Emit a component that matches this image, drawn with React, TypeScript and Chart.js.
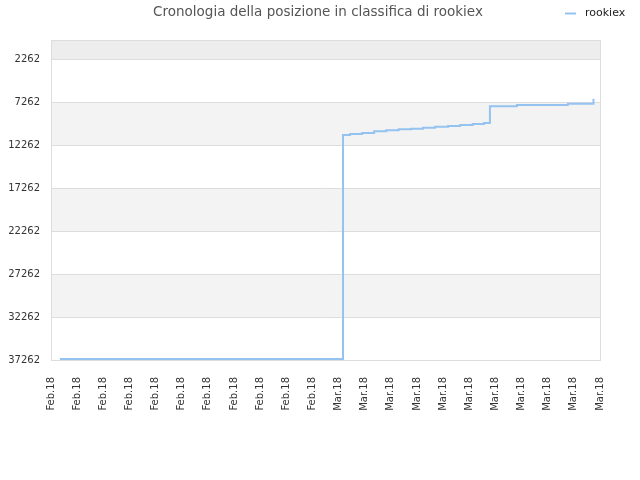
import { useEffect, useRef } from "react";
import { Chart, registerables } from "chart.js";

Chart.register(...registerables);

// tick labels under the x axis (one per grid step)
const xLabels = [
  "Feb.18", "Feb.18", "Feb.18", "Feb.18", "Feb.18", "Feb.18",
  "Feb.18", "Feb.18", "Feb.18", "Feb.18", "Feb.18",
  "Mar.18", "Mar.18", "Mar.18", "Mar.18", "Mar.18", "Mar.18",
  "Mar.18", "Mar.18", "Mar.18", "Mar.18", "Mar.18",
];

// position on the time axis (in label steps) where the rank changes
const changeAt = [
  0.34, 11.17, 11.44, 11.9, 12.36, 12.82, 13.3, 13.77, 14.23,
  14.69, 15.19, 15.65, 16.13, 16.56, 16.79, 17.82, 19.77, 20.75,
];
const ranks = [
  37146, 11064, 10948, 10832, 10634, 10518, 10402, 10320, 10204,
  10088, 10018, 9902, 9786, 9669, 7727, 7576, 7413, 6832,
];

const yTicks = [2262, 7262, 12262, 17262, 22262, 27262, 32262, 37262];

const titleText = "Cronologia della posizione in classifica di rookiex";
const seriesName = "rookiex";
const lineColor = "#95c3f1";

const decorPlugin = {
  id: "decor",
  beforeDraw(chart: any) {
    const { ctx, chartArea } = chart;
    const y = chart.scales.y;
    ctx.save();
    // top strip above the first tick
    ctx.fillStyle = "#ededed";
    ctx.fillRect(chartArea.left, chartArea.top, chartArea.right - chartArea.left, y.getPixelForValue(yTicks[0]) - chartArea.top);
    ctx.fillStyle = "#f3f3f3";
    for (let i = 1; i < yTicks.length - 1; i += 2) {
      const a = y.getPixelForValue(yTicks[i]);
      const b = y.getPixelForValue(yTicks[i + 1]);
      ctx.fillRect(chartArea.left, a, chartArea.right - chartArea.left, b - a);
    }
    ctx.restore();
  },
  afterDraw(chart: any) {
    const { ctx, chartArea } = chart;
    ctx.save();
    ctx.strokeStyle = "#dddddd";
    ctx.lineWidth = 1;
    ctx.strokeRect(chartArea.left + 0.5, chartArea.top + 0.5, chartArea.right - chartArea.left, chartArea.bottom - chartArea.top);
    // title
    ctx.fillStyle = "#555";
    ctx.font = "13.5px 'DejaVu Sans'";
    ctx.textAlign = "center";
    ctx.textBaseline = "middle";
    ctx.fillText(titleText, 318, 12);
    // legend, top right
    ctx.strokeStyle = lineColor;
    ctx.lineWidth = 2;
    ctx.beginPath();
    ctx.moveTo(565, 13.5);
    ctx.lineTo(576, 13.5);
    ctx.stroke();
    ctx.fillStyle = "#222";
    ctx.font = "11px 'DejaVu Sans'";
    ctx.textAlign = "left";
    ctx.fillText(seriesName, 585, 13);
    ctx.restore();
  },
};

export default function App() {
  const canvasRef = useRef<HTMLCanvasElement | null>(null);

  useEffect(() => {
    document.body.style.margin = "0";
    if (!canvasRef.current) return;

    const chart = new Chart(canvasRef.current, {
      type: "line",
      data: {
        datasets: [
          {
            label: seriesName,
            data: changeAt.map((x, i) => ({ x, y: ranks[i] })),
            borderColor: lineColor,
            borderWidth: 2,
            stepped: "before",
            pointRadius: 0,
            fill: false,
          },
        ],
      },
      options: {
        animation: false,
        responsive: false,
        devicePixelRatio: 1,
        layout: { padding: { left: 0, right: 40, top: 40, bottom: 0 } },
        font: { family: "'DejaVu Sans'" },
        plugins: {
          legend: { display: false },
          tooltip: { enabled: false },
          title: { display: false },
        },
        scales: {
          x: {
            type: "linear",
            min: 0,
            max: xLabels.length - 1,
            afterBuildTicks: (scale: any) => {
              scale.ticks = xLabels.map((_, i) => ({ value: i }));
            },
            afterFit: (scale: any) => {
              scale.height = 120;
            },
            grid: { display: false },
            border: { display: false },
            ticks: {
              autoSkip: false,
              minRotation: 90,
              maxRotation: 90,
              padding: 9,
              color: "#333",
              font: { family: "'DejaVu Sans'", size: 10 },
              callback: (v: any) => xLabels[v],
            },
          },
          y: {
            type: "linear",
            reverse: true,
            min: 0,
            max: yTicks[yTicks.length - 1],
            afterBuildTicks: (scale: any) => {
              scale.ticks = yTicks.map((v) => ({ value: v }));
            },
            afterFit: (scale: any) => {
              scale.width = 51;
            },
            grid: { color: "#dddddd", drawTicks: false },
            border: { display: false },
            ticks: {
              padding: 11,
              color: "#333",
              font: { family: "'DejaVu Sans'", size: 10 },
              callback: (v: any) => String(v),
            },
          },
        },
      },
      plugins: [decorPlugin],
    });

    return () => chart.destroy();
  }, []);

  return (
    <div style={{ width: 640, height: 480, background: "#fff" }}>
      <canvas ref={canvasRef} width={640} height={480} />
    </div>
  );
}
